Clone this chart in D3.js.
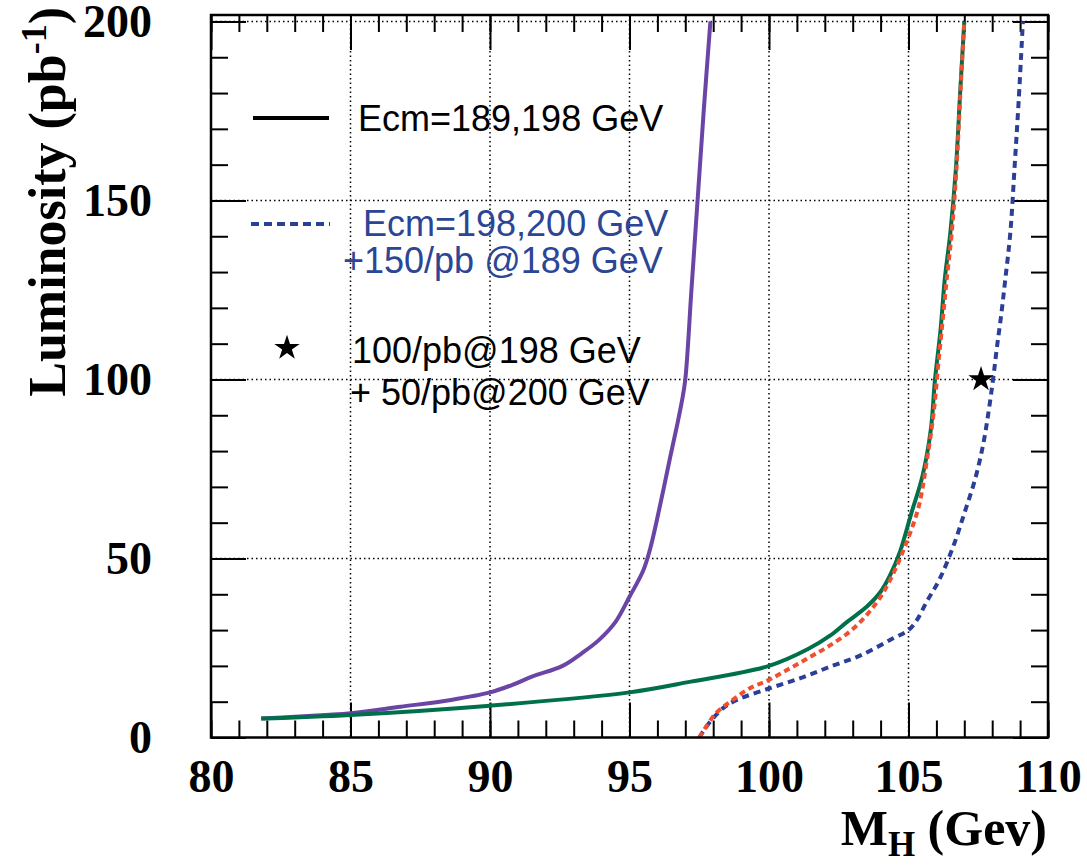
<!DOCTYPE html>
<html>
<head>
<meta charset="utf-8">
<script src="https://cdn.jsdelivr.net/npm/d3@7"></script>
<style>
  body { margin: 0; background: #fff; }
  text { white-space: pre; }
</style>
</head>
<body>
<div class="chart"></div>
<script>
// Width and height
const w = 1087;
const h = 865;
const margin = { left: 211, top: 15, right: 39, bottom: 127.5 };

// axis setup
const xDomain = [80, 110];
const yDomain = [0, 201.8];
const xMajor = [80, 85, 90, 95, 100, 105, 110];
const yMajor = [0, 50, 100, 150, 200];
const xMinor = d3.range(80, 111, 1);
const yMinor = d3.range(0, 201, 10);

// curves
const purpleMass = [81.8, 83, 85, 86.8, 88.6, 90, 90.8, 91.5, 92.6, 93.3, 93.9, 94.5, 95.0, 95.5, 95.75, 96.1, 96.45, 96.7, 96.88, 97.0, 97.22, 97.44, 97.66, 97.9];
const purpleLumi = [5.3, 5.8, 6.8, 8.6, 10.5, 12.6, 14.7, 17, 20, 23.6, 27.2, 32.3, 39.3, 46.8, 53, 65, 78, 87, 94, 100, 125, 150, 175, 200];

const greenMass = [81.8, 85, 90, 95, 97.2, 100, 101.4, 102.2, 102.8, 103.5, 104.0, 104.35, 104.7, 105.1, 105.5, 105.8, 105.95, 106.15, 106.3, 106.5, 106.7, 106.85, 107.0];
const greenLumi = [5.3, 6.3, 8.9, 12.6, 15.6, 20, 24.7, 28.5, 32.3, 36.5, 40.7, 45.5, 52, 62.6, 73, 86, 100, 114, 128, 141, 159, 180, 200];

const redMass = [97.5, 98.1, 98.7, 99.3, 100.0, 100.75, 101.5, 102.2, 102.9, 103.5, 104.0, 104.4, 104.75, 105.35, 105.65, 105.9, 106.07, 106.25, 106.37, 106.55, 106.72, 106.86, 107.0];
const redLumi = [0, 6.8, 10.5, 13.7, 16.1, 19.3, 22.6, 25.8, 29.6, 34.2, 39.3, 44.9, 51, 64, 77, 90.6, 104.5, 118.5, 128, 141, 159, 180, 200];

const blueMass = [97.5, 97.9, 98.4, 98.85, 100, 101.1, 102.2, 103.3, 104.45, 105, 105.3, 105.65, 106.1, 106.6, 107, 107.4, 107.68, 107.87, 108.03, 108.17, 108.33, 108.47, 108.65, 108.8, 108.95, 109.1];
const blueLumi = [0, 4.5, 8.5, 10.5, 13.7, 16.5, 19.8, 23, 27.7, 30, 32.8, 37.9, 44, 53.3, 62.6, 72.5, 82, 91, 100, 109, 118.5, 128, 141, 159, 178, 200];

const starPoint = [107.6, 100];

const legendLabels = ["Ecm=189,198 GeV", "Ecm=198,200 GeV", "+150/pb @189 GeV", "100/pb@198 GeV", "+ 50/pb@200 GeV"];

const colors = {
  purple: "#6a45a6",
  green: "#00704a",
  red: "#f1502f",
  blue: "#2b3f99",
  blueText: "#2c4595",
};

const iw = w - margin.left - margin.right;
const ih = h - margin.top - margin.bottom;

const x = d3.scaleLinear().domain(xDomain).range([0, iw]);
const y = d3.scaleLinear().domain(yDomain).range([ih, 0]);

const svg = d3
  .select(".chart")
  .append("svg")
  .attr("width", w)
  .attr("height", h);

const g = svg
  .append("g")
  .attr("transform", `translate(${margin.left},${margin.top})`);

// dotted grid at the inner major ticks
const gridX = xMajor.filter((d) => d > 80 && d < 110);
const gridY = yMajor.filter((d) => d > 0);

g.selectAll(".gx")
  .data(gridX)
  .enter()
  .append("line")
  .attr("x1", (d) => x(d))
  .attr("x2", (d) => x(d))
  .attr("y1", 0)
  .attr("y2", ih)
  .attr("stroke", "#000")
  .attr("stroke-width", 1.5)
  .attr("stroke-dasharray", "1.5,3");

g.selectAll(".gy")
  .data(gridY)
  .enter()
  .append("line")
  .attr("x1", 0)
  .attr("x2", iw)
  .attr("y1", (d) => y(d))
  .attr("y2", (d) => y(d))
  .attr("stroke", "#000")
  .attr("stroke-width", 1.5)
  .attr("stroke-dasharray", "1.5,3");

// ticks on all four sides, pointing inwards
const tickAxis = (axisFn, scale, values, size, transform) => {
  const a = g
    .append("g")
    .attr("transform", transform)
    .call(axisFn(scale).tickValues(values).tickSize(-size).tickFormat(""));
  a.select(".domain").remove();
  a.selectAll("line").attr("stroke", "#000").attr("stroke-width", 2);
};

tickAxis(d3.axisBottom, x, xMinor, 17, `translate(0,${ih})`);
tickAxis(d3.axisBottom, x, xMajor, 35, `translate(0,${ih})`);
tickAxis(d3.axisTop, x, xMinor, 17, "translate(0,0)");
tickAxis(d3.axisTop, x, xMajor, 35, "translate(0,0)");
tickAxis(d3.axisLeft, y, yMinor, 17, "translate(0,0)");
tickAxis(d3.axisLeft, y, yMajor, 35, "translate(0,0)");
tickAxis(d3.axisRight, y, yMinor, 17, `translate(${iw},0)`);
tickAxis(d3.axisRight, y, yMajor, 35, `translate(${iw},0)`);

// tick labels
const xLabels = g
  .append("g")
  .attr("transform", `translate(0,${ih})`)
  .call(d3.axisBottom(x).tickValues(xMajor).tickSize(0).tickPadding(22));
xLabels.select(".domain").remove();
xLabels
  .selectAll("text")
  .attr("font-family", "Liberation Serif")
  .attr("font-weight", "bold")
  .attr("font-size", 46)
  .attr("fill", "#000");

const yLabels = g
  .append("g")
  .call(d3.axisLeft(y).tickValues(yMajor).tickSize(0).tickPadding(59));
yLabels.select(".domain").remove();
yLabels
  .selectAll("text")
  .attr("font-family", "Liberation Serif")
  .attr("font-weight", "bold")
  .attr("font-size", 46)
  .attr("fill", "#000");

// curves
const line = d3
  .line()
  .x((d) => x(d[0]))
  .y((d) => y(d[1]))
  .curve(d3.curveCatmullRom.alpha(0.5));

const drawCurve = (mass, lumi, color, dash) => {
  g.append("path")
    .datum(d3.zip(mass, lumi))
    .attr("d", line)
    .attr("fill", "none")
    .attr("stroke", color)
    .attr("stroke-width", 4)
    .attr("stroke-dasharray", dash);
};

drawCurve(purpleMass, purpleLumi, colors.purple, null);
drawCurve(greenMass, greenLumi, colors.green, null);
drawCurve(blueMass, blueLumi, colors.blue, "7,5");
drawCurve(redMass, redLumi, colors.red, "6,4");

// star
const star = d3.symbol().type(d3.symbolStar).size(200);
g.append("path")
  .attr("d", star)
  .attr("transform", `translate(${x(starPoint[0])},${y(starPoint[1])})`)
  .attr("fill", "#000");

// frame
g.append("rect")
  .attr("x", 0)
  .attr("y", 0)
  .attr("width", iw)
  .attr("height", ih)
  .attr("fill", "none")
  .attr("stroke", "#000")
  .attr("stroke-width", 2.5);

// legend
const legendFont = (sel, color) =>
  sel
    .attr("font-family", "Liberation Sans")
    .attr("font-size", 36)
    .attr("fill", color);

svg.append("line")
  .attr("x1", 253).attr("x2", 329)
  .attr("y1", 118).attr("y2", 118)
  .attr("stroke", "#000").attr("stroke-width", 4);
legendFont(svg.append("text").attr("x", 358).attr("y", 131), "#000").text(legendLabels[0]);

svg.append("line")
  .attr("x1", 251).attr("x2", 330)
  .attr("y1", 224).attr("y2", 224)
  .attr("stroke", colors.blue).attr("stroke-width", 4)
  .attr("stroke-dasharray", "8,5");
legendFont(svg.append("text").attr("x", 363).attr("y", 236), colors.blueText).text(legendLabels[1]);
legendFont(svg.append("text").attr("x", 343).attr("y", 273), colors.blueText).text(legendLabels[2]);

svg.append("path")
  .attr("d", star)
  .attr("transform", "translate(287,348)")
  .attr("fill", "#000");
legendFont(svg.append("text").attr("x", 352).attr("y", 363), "#000").text(legendLabels[3]);
legendFont(svg.append("text").attr("x", 350).attr("y", 405), "#000").text(legendLabels[4]);

// axis titles
const xTitle = svg
  .append("text")
  .attr("x", 1047)
  .attr("y", 845)
  .attr("text-anchor", "end")
  .attr("font-family", "Liberation Serif")
  .attr("font-weight", "bold")
  .attr("font-size", 50);
xTitle.append("tspan").text("M");
xTitle.append("tspan").attr("font-size", 35).attr("dy", 11).text("H");
xTitle.append("tspan").attr("dy", -11).text(" (Gev)");

const yTitle = svg
  .append("text")
  .attr("transform", "translate(65,7) rotate(-90)")
  .attr("text-anchor", "end")
  .attr("font-family", "Liberation Serif")
  .attr("font-weight", "bold")
  .attr("font-size", 52);
yTitle.append("tspan").text("Luminosity (pb");
yTitle.append("tspan").attr("font-size", 36).attr("dy", -19).text("-1");
yTitle.append("tspan").attr("dy", 19).text(")");
</script>
</body>
</html>
